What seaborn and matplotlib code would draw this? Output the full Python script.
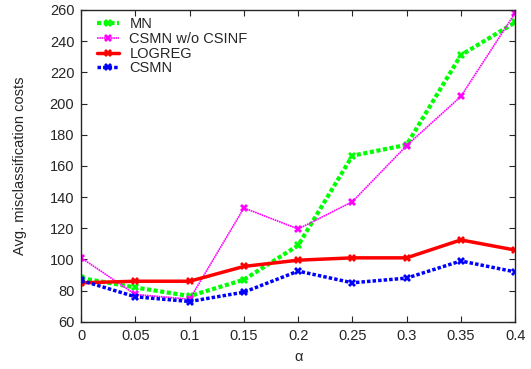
import seaborn as sns
import numpy as np
import pandas as pd
import matplotlib
matplotlib.use("Agg")
import matplotlib.pyplot as plt

alpha = [0, 0.05, 0.1, 0.15, 0.2, 0.25, 0.3, 0.35, 0.4]
mn = [88, 82, 76.5, 87, 109, 166.5, 173.5, 231, 252]
csmn_wo = [101, 77.5, 74.5, 133, 119.5, 137, 173, 204.5, 258]
logreg = [85, 86, 86, 95.5, 99.5, 101, 101, 112.5, 106]
csmn = [86.5, 76, 73, 79, 92.5, 85, 88, 99, 92]

names = ["MN", "CSMN w/o CSINF", "LOGREG", "CSMN"]
series = [mn, csmn_wo, logreg, csmn]
colors = ["#00ff00", "#ff00ff", "#ff0000", "#0000ff"]
styles = [(0, (1, 0.6)), (0, (1, 0.4)), "-", (0, (1, 0.6))]
widths = [3, 1.2, 2.5, 2.5]

sns.set_style("ticks")
plt.rcParams["font.family"] = ["Liberation Sans", "DejaVu Sans"]
plt.rcParams["xtick.direction"] = "in"
plt.rcParams["ytick.direction"] = "in"

fig, ax = plt.subplots(figsize=(5.31, 3.69), dpi=100)
fig.subplots_adjust(left=0.153, right=0.970, top=0.973, bottom=0.128)

for name, vals, c, ls, lw in zip(names, series, colors, styles, widths):
    df = pd.DataFrame({"alpha": alpha, "cost": vals})
    sns.lineplot(data=df, x="alpha", y="cost", ax=ax, color=c, linestyle=ls,
                 linewidth=lw, marker="X", markersize=6, markeredgewidth=0,
                 label=name)

ax.set_xlim(0, 0.4)
ax.set_ylim(60, 260)
ax.set_xticks(np.arange(0, 0.41, 0.05))
ax.set_xticklabels(["0", "0.05", "0.1", "0.15", "0.2", "0.25", "0.3", "0.35", "0.4"])
ax.set_yticks(np.arange(60, 261, 20))
ax.tick_params(axis="both", labelsize=10.5, top=True, right=True, length=4,
               width=0.8, pad=5)
for s in ax.spines.values():
    s.set_linewidth(1.0)
ax.set_xlabel("α", fontsize=10.5, labelpad=5.5)
ax.set_ylabel("Avg. misclassification costs", fontsize=10.5, labelpad=16)

ax.legend(loc="upper left", frameon=False, fontsize=10.5, handlelength=1.5,
          numpoints=1, labelspacing=0.05, borderaxespad=0.2, borderpad=0.3,
          handletextpad=0.7, bbox_to_anchor=(0.02, 1.0))

fig.savefig("out.png", dpi=100)
